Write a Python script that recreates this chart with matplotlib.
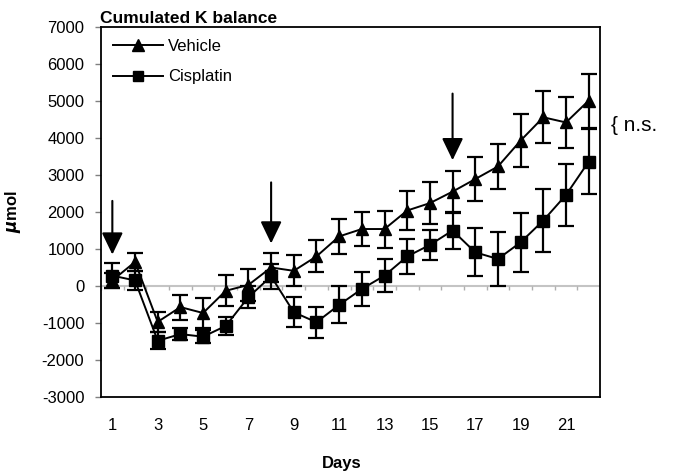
import numpy as np
import matplotlib.pyplot as plt
from matplotlib.lines import Line2D

plt.rcParams['font.family'] = ['Liberation Sans', 'DejaVu Sans']
plt.rcParams['axes.unicode_minus'] = False

# data (umol)
days = np.arange(1, 23)
vehicle = [150, 650, -970, -570, -730, -130, 30, 500, 410, 800, 1340, 1540,
           1540, 2040, 2240, 2550, 2890, 3230, 3930, 4560, 4420, 5010]
vehicle_err = [200, 240, 280, 340, 400, 420, 430, 390, 420, 430, 480, 460,
               500, 530, 560, 570, 590, 610, 720, 700, 680, 730]
cisplatin = [280, 150, -1480, -1300, -1370, -1080, -300, 260, -710, -980, -510, -80,
             280, 800, 1110, 1500, 910, 730, 1180, 1770, 2460, 3360]
cisplatin_err = [330, 260, 230, 160, 170, 250, 300, 340, 400, 420, 500, 470,
                 450, 480, 400, 500, 650, 720, 800, 860, 850, 880]

# treatment arrows: day, shaft top, tip
arrow_days = [1, 8, 16]
arrow_top = [2300, 2800, 5200]
arrow_tip = [850, 1150, 3400]

fig = plt.figure(figsize=(6.8, 4.75), dpi=100)
ax = fig.add_axes([101/680, 1-397/475, 499/680, 370/475])

ax.axhline(0, color='#c4c4c4', lw=1.5, zorder=1)
ax.vlines(np.arange(len(days)+1)+0.5, -110, 0, color='#b0b0b0', lw=1, zorder=1)

ax.errorbar(days, cisplatin, yerr=cisplatin_err, color='black', marker='s', ms=8,
            lw=1.4, elinewidth=1.6, capsize=6, capthick=1.6, zorder=3)
ax.errorbar(days, vehicle, yerr=vehicle_err, color='black', marker='^', ms=9,
            lw=1.4, elinewidth=1.6, capsize=6, capthick=1.6, zorder=4)

for d, t0, t1 in zip(arrow_days, arrow_top, arrow_tip):
    ax.annotate('', xy=(d, t1), xytext=(d, t0),
                arrowprops=dict(arrowstyle='-|>,head_width=0.65,head_length=1.35',
                                color='black', lw=1.5, mutation_scale=10,
                                shrinkA=0, shrinkB=0))

ax.text(22.98, 4330, '{ n.s.', fontsize=15, va='center', ha='left', clip_on=False)

ax.set_xlim(0.5, 22.5)
ax.set_ylim(-3000, 7000)
ax.set_yticks(np.arange(-3000, 7001, 1000))
ax.set_xticks(days[::2])
ax.tick_params(axis='y', direction='out', length=4, width=1, color='#808080',
               labelsize=12, pad=8)
ax.tick_params(axis='x', length=0, labelsize=12, pad=15)
for s in ax.spines.values():
    s.set_linewidth(1.3)

ax.set_title('Cumulated K balance', loc='left', fontsize=12.5, fontweight='bold', pad=3, x=-0.002)
ax.set_xlabel('Days', fontsize=12, fontweight='bold')
ax.xaxis.set_label_coords(0.483, -0.16)
ax.set_ylabel(r'$\boldsymbol{\mu}$mol', fontsize=12, fontweight='bold')
ax.yaxis.set_label_coords(-0.156, 0.5)

handles = [Line2D([], [], color='black', marker='^', ms=8, lw=1.4),
           Line2D([], [], color='black', marker='s', ms=7, lw=1.4)]
ax.legend(handles, ['Vehicle', 'Cisplatin'], loc='upper left', bbox_to_anchor=(0.0, 1.0),
          frameon=False, fontsize=12, handlelength=3, labelspacing=0.95,
          handletextpad=0.3, borderaxespad=0.3)

fig.savefig('out.png', dpi=100)
